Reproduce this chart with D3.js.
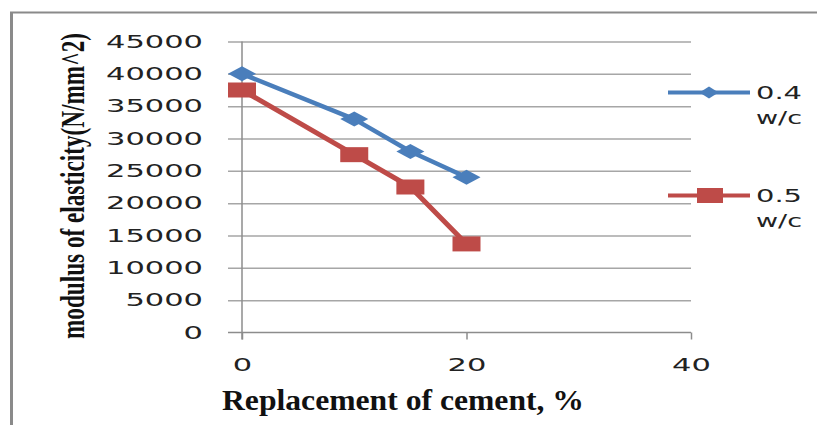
<!DOCTYPE html>
<html>
<head>
<meta charset="utf-8">
<script src="https://cdn.jsdelivr.net/npm/d3@7"></script>
<style>
  html, body { margin: 0; padding: 0; background: #fff; }
  svg { display: block; }
</style>
</head>
<body>
<svg id="chart" width="817" height="425"></svg>
<script>
// Replacement of cement (%) and measured modulus of elasticity for each w/c ratio
const replacement = [0, 10, 15, 20];
const wc04 = [40000, 33000, 28000, 24000];
const wc05 = [37500, 27500, 22500, 13700];
const seriesNames = [["0.4", "w/c"], ["0.5", "w/c"]];
const yTicks = [0, 5000, 10000, 15000, 20000, 25000, 30000, 35000, 40000, 45000];
const xTicks = [0, 20, 40];

const svg = d3.select("#chart");
const blue = "#4a7ebb", red = "#be4b48", gridCol = "#a6a6a6", axisCol = "#8c8c8c";

const x = d3.scaleLinear().domain([0, 40]).range([242, 691]);
const y = d3.scaleLinear().domain([0, 45000]).range([332.5, 41.5]);
const fmt = d3.format("d");

// outer frame (left and top edges)
svg.append("line").attr("x1", 11.5).attr("x2", 11.5).attr("y1", 12).attr("y2", 425)
  .attr("stroke", "#8a8a8a").attr("stroke-width", 3);
svg.append("line").attr("x1", 10).attr("x2", 817).attr("y1", 12.5).attr("y2", 12.5)
  .attr("stroke", "#8a8a8a").attr("stroke-width", 2);

// horizontal gridlines, extending left past the axis as tick marks
const grid = svg.append("g").attr("transform", "translate(691,0)")
  .call(d3.axisLeft(y).tickValues(yTicks.slice(1)).tickSize(463).tickFormat(""));
grid.select(".domain").remove();
grid.selectAll("line").attr("stroke", gridCol).attr("stroke-width", 1.5);

// y axis labels
const yAxis = svg.append("g").attr("transform", "translate(242,0)")
  .call(d3.axisLeft(y).tickValues(yTicks).tickFormat(fmt).tickSize(0).tickPadding(39));
yAxis.select(".domain").remove();
yAxis.selectAll("text")
  .attr("font-family", "DejaVu Sans").attr("font-size", 18).attr("fill", "#222")
  .attr("textLength", d => fmt(d).length * 19.4)
  .attr("lengthAdjust", "spacingAndGlyphs");

// x axis
const xAxis = svg.append("g").attr("transform", "translate(0,332.5)")
  .call(d3.axisBottom(x).tickValues(xTicks).tickFormat(fmt).tickSize(7).tickSizeOuter(0));
xAxis.select(".domain").remove();
xAxis.selectAll("line").attr("stroke", axisCol).attr("stroke-width", 1.5);
xAxis.selectAll("text")
  .attr("y", 32).attr("dy", "0.35em")
  .attr("font-family", "DejaVu Sans").attr("font-size", 18).attr("fill", "#222")
  .attr("textLength", d => fmt(d).length * 19.4)
  .attr("lengthAdjust", "spacingAndGlyphs");

svg.append("line").attr("x1", 228).attr("x2", 691).attr("y1", y(0)).attr("y2", y(0))
  .attr("stroke", axisCol).attr("stroke-width", 1.5);
svg.append("line").attr("x1", 242).attr("x2", 242).attr("y1", y(45000)).attr("y2", y(0) + 7)
  .attr("stroke", axisCol).attr("stroke-width", 1.5);

// axis titles (condensed bold serif)
svg.append("text")
  .attr("transform", "translate(84,186) rotate(-90)")
  .attr("text-anchor", "middle")
  .attr("font-family", "Liberation Serif").attr("font-weight", "bold").attr("font-size", 33)
  .attr("fill", "#111")
  .attr("textLength", 306).attr("lengthAdjust", "spacingAndGlyphs")
  .text("modulus of elasticity(N/mm^2)");
svg.append("text")
  .attr("x", 403).attr("y", 410)
  .attr("text-anchor", "middle")
  .attr("font-family", "Liberation Serif").attr("font-weight", "bold").attr("font-size", 30)
  .attr("fill", "#111")
  .attr("textLength", 362).attr("lengthAdjust", "spacingAndGlyphs")
  .text("Replacement of cement, %");

// series
const line = d3.line().x(d => x(d[0])).y(d => y(d[1]));
const s04 = replacement.map((r, i) => [r, wc04[i]]);
const s05 = replacement.map((r, i) => [r, wc05[i]]);

svg.append("path").datum(s04).attr("d", line)
  .attr("fill", "none").attr("stroke", blue).attr("stroke-width", 4.5).attr("stroke-linejoin", "round");
svg.append("path").datum(s05).attr("d", line)
  .attr("fill", "none").attr("stroke", red).attr("stroke-width", 5).attr("stroke-linejoin", "round");

function diamond(w, h) {
  return `M0,${-h / 2}L${w / 2},0L0,${h / 2}L${-w / 2},0Z`;
}

svg.append("g").selectAll("path").data(s04).join("path")
  .attr("transform", d => `translate(${x(d[0])},${y(d[1])})`)
  .attr("d", diamond(28, 15)).attr("fill", blue);

svg.append("g").selectAll("rect").data(s05).join("rect")
  .attr("x", d => x(d[0]) - 14).attr("y", d => y(d[1]) - 7.5)
  .attr("width", 28).attr("height", 15).attr("fill", red);

// legend
const legendY = [92.5, 195.5];
const legendCol = [blue, red];
legendY.forEach((ly, i) => {
  svg.append("line").attr("x1", 668).attr("x2", 750).attr("y1", ly).attr("y2", ly)
    .attr("stroke", legendCol[i]).attr("stroke-width", 4);
  if (i === 0) {
    svg.append("path").attr("transform", `translate(709,${ly})`)
      .attr("d", diamond(19, 12)).attr("fill", blue);
  } else {
    svg.append("rect").attr("x", 697).attr("y", ly - 7.5).attr("width", 26).attr("height", 15)
      .attr("fill", red);
  }
  seriesNames[i].forEach((t, j) => {
    svg.append("text").attr("x", 756).attr("y", ly + j * 25).attr("dy", "0.35em")
      .attr("font-family", "DejaVu Sans").attr("font-size", 18).attr("fill", "#222")
      .attr("textLength", 46).attr("lengthAdjust", "spacingAndGlyphs")
      .text(t);
  });
});
</script>
</body>
</html>
